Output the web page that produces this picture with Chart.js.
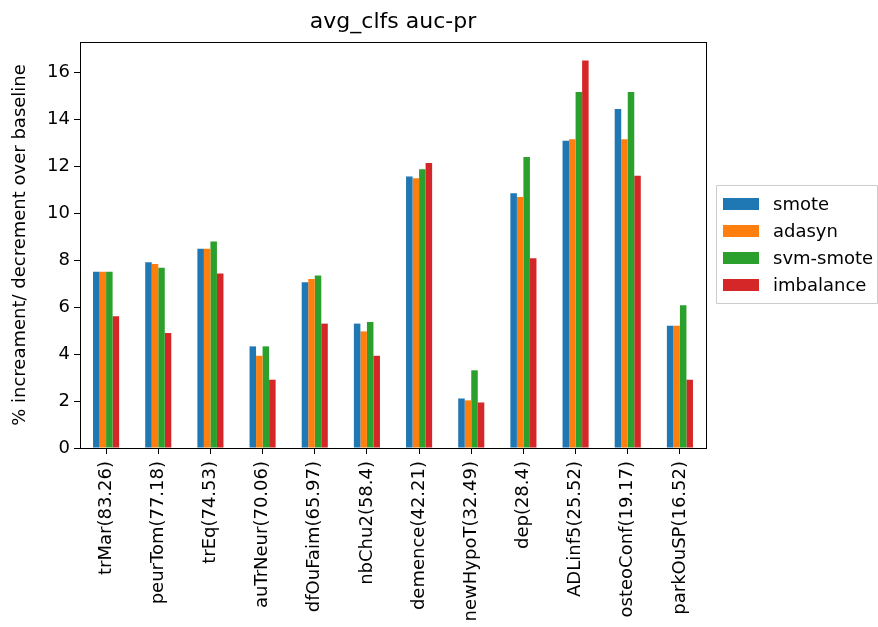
<!DOCTYPE html>
<html>
<head>
<meta charset="utf-8">
<script src="https://cdn.jsdelivr.net/npm/chart.js@4/dist/chart.umd.min.js"></script>
<style>
  html, body { margin: 0; padding: 0; background: #fff; }
  #wrap { width: 878px; height: 627px; }
</style>
</head>
<body>
<div id="wrap"><canvas id="c" width="878" height="627"></canvas></div>
<script>
// Categories (dataset name with its baseline score) and per-method % change
const categories = ['trMar(83.26)', 'peurTom(77.18)', 'trEq(74.53)', 'auTrNeur(70.06)', 'dfOuFaim(65.97)', 'nbChu2(58.4)',
                    'demence(42.21)', 'newHypoT(32.49)', 'dep(28.4)', 'ADLinf5(25.52)', 'osteoConf(19.17)', 'parkOuSP(16.52)'];
const smote     = [7.51, 7.91, 8.49, 4.33, 7.06, 5.30, 11.57, 2.11, 10.86, 13.09, 14.44, 5.21];
const adasyn    = [7.51, 7.84, 8.49, 3.93, 7.20, 4.97, 11.49, 2.03, 10.69, 13.16, 13.16, 5.21];
const svmSmote  = [7.51, 7.68, 8.80, 4.33, 7.35, 5.37, 11.88, 3.31, 12.40, 15.17, 15.17, 6.08];
const imbalance = [5.61, 4.90, 7.44, 2.91, 5.30, 3.93, 12.14, 1.94, 8.09, 16.51, 11.60, 2.91];
const seriesNames = ['smote', 'adasyn', 'svm-smote', 'imbalance'];
const yTicks = [0, 2, 4, 6, 8, 10, 12, 14, 16];
const chartTitle = 'avg_clfs auc-pr';

const colors = ['#1f77b4', '#ff7f0e', '#2ca02c', '#d62728'];
const FONT = "'DejaVu Sans', sans-serif";

// Full box around the axes (top and right spines) plus the title centred over the axes
const framePlugin = {
  id: 'frame',
  afterDatasetsDraw(chart) {
    const { ctx, chartArea: a } = chart;
    ctx.save();
    ctx.strokeStyle = '#000';
    ctx.lineWidth = 1;
    ctx.strokeRect(Math.round(a.left) + 0.5, Math.round(a.top) + 0.5,
                   Math.round(a.right - a.left), Math.round(a.bottom - a.top));
    ctx.fillStyle = '#000';
    ctx.font = '22px ' + FONT;
    ctx.textAlign = 'center';
    ctx.textBaseline = 'middle';
    ctx.fillText(chartTitle, (a.left + a.right) / 2, 22);
    ctx.restore();
  }
};

// Boxed legend placed outside the axes on the right
const sideLegend = {
  id: 'sideLegend',
  afterDraw(chart) {
    const { ctx, chartArea: a } = chart;
    const boxL = a.right + 10, boxT = 185, boxW = 161, rowH = 27, pad = 8;
    const boxH = pad * 2 + rowH * chart.data.datasets.length - 6;
    ctx.save();
    ctx.fillStyle = 'rgba(255,255,255,0.8)';
    ctx.strokeStyle = '#cccccc';
    ctx.lineWidth = 1;
    ctx.beginPath();
    ctx.rect(boxL + 0.5, boxT + 0.5, boxW, boxH);
    ctx.fill();
    ctx.stroke();
    ctx.font = '18px ' + FONT;
    ctx.textBaseline = 'middle';
    chart.data.datasets.forEach((ds, i) => {
      const cy = boxT + pad + rowH * i + 11;
      ctx.fillStyle = ds.backgroundColor;
      ctx.fillRect(boxL + 7, cy - 6, 36, 12);
      ctx.fillStyle = '#000';
      ctx.fillText(ds.label, boxL + 57, cy + 1);
    });
    ctx.restore();
  }
};

new Chart(document.getElementById('c'), {
  type: 'bar',
  data: {
    labels: categories,
    datasets: [smote, adasyn, svmSmote, imbalance].map((vals, i) => ({
      label: seriesNames[i],
      data: vals,
      backgroundColor: colors[i],
      borderWidth: 0,
      categoryPercentage: 0.5,
      barPercentage: 1.0
    }))
  },
  options: {
    responsive: false,
    animation: false,
    devicePixelRatio: 1,
    layout: { padding: { top: 42, right: 172, left: 0, bottom: 0 } },
    plugins: {
      legend: { display: false },
      tooltip: { enabled: false },
      title: { display: false }
    },
    scales: {
      x: {
        grid: { display: true, drawOnChartArea: false, drawTicks: true, tickLength: 6, offset: false, color: '#000' },
        border: { display: true, color: '#000', width: 1 },
        ticks: {
          color: '#000', font: { family: FONT, size: 18 },
          maxRotation: 90, minRotation: 90, autoSkip: false, padding: 7
        },
        afterFit(scale) { scale.height = 179; }
      },
      y: {
        min: 0,
        max: 17.3,
        grid: { display: true, drawOnChartArea: false, drawTicks: true, tickLength: 6, color: '#000' },
        border: { display: true, color: '#000', width: 1 },
        ticks: { color: '#000', font: { family: FONT, size: 18 }, stepSize: 2, includeBounds: false, padding: 4 },
        afterBuildTicks(scale) { scale.ticks = yTicks.map(v => ({ value: v })); },
        title: {
          display: true,
          text: '% increament/ decrement over baseline',
          color: '#000',
          font: { family: FONT, size: 18 },
          padding: { top: 10, bottom: 0 }
        },
        afterFit(scale) { scale.width = 80; }
      }
    }
  },
  plugins: [framePlugin, sideLegend]
});
</script>
</body>
</html>
